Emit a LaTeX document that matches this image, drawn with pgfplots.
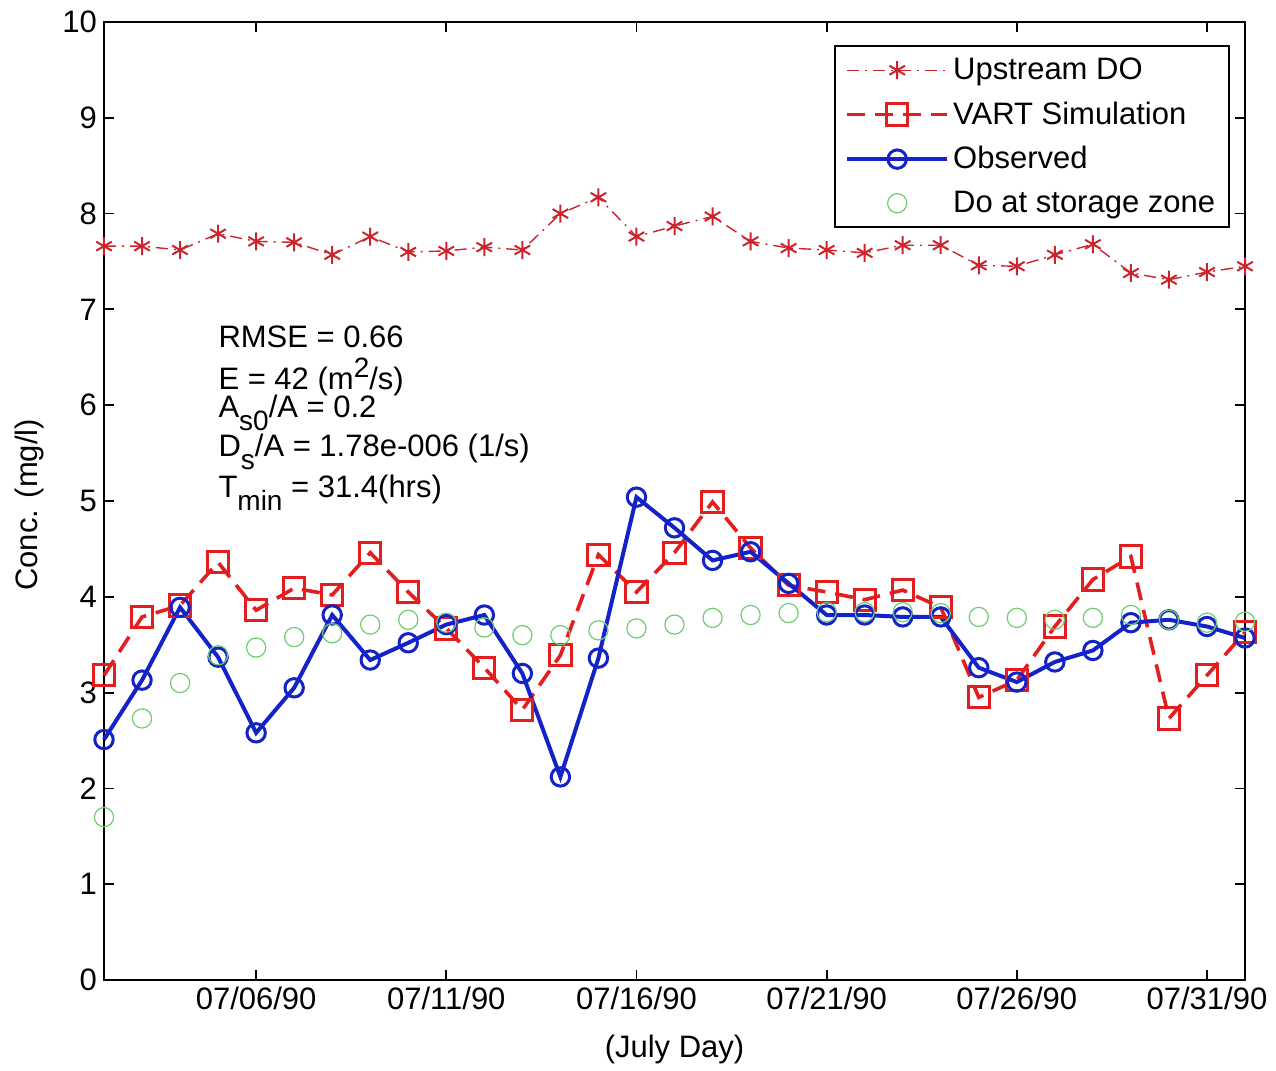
\documentclass[border=0pt]{standalone}
\usepackage{fontspec}
\setmainfont{Liberation Sans}
\usepackage{pgfplots}
\pgfplotsset{compat=1.18}
\definecolor{matred}{RGB}{228,30,30}
\definecolor{starred}{RGB}{205,35,45}
\definecolor{matblue}{RGB}{20,35,200}
\definecolor{matgreen}{RGB}{110,205,110}
\newcommand{\fs}{\fontsize{15.5}{18.6}\selectfont}
\newcommand{\sub}[1]{\raisebox{-6.5pt}{\fontsize{14}{14}\selectfont #1}}
\newcommand{\sups}[1]{\raisebox{6pt}{\fontsize{14}{14}\selectfont #1}}

\pgfplotstableread{
x up vart obs stor
2 7.66 3.18 2.51 1.70
3 7.66 3.79 3.13 2.73
4 7.62 3.91 3.89 3.10
5 7.79 4.36 3.37 3.39
6 7.71 3.86 2.58 3.47
7 7.70 4.09 3.05 3.58
8 7.57 4.02 3.81 3.62
9 7.76 4.46 3.34 3.71
10 7.60 4.05 3.52 3.76
11 7.61 3.67 3.71 3.73
12 7.65 3.26 3.81 3.68
13 7.62 2.82 3.20 3.60
14 8.00 3.39 2.12 3.60
15 8.17 4.44 3.36 3.65
16 7.76 4.05 5.04 3.67
17 7.87 4.46 4.72 3.71
18 7.97 4.99 4.38 3.78
19 7.71 4.51 4.47 3.81
20 7.64 4.12 4.14 3.83
21 7.62 4.05 3.81 3.84
22 7.59 3.97 3.81 3.84
23 7.67 4.07 3.79 3.84
24 7.67 3.89 3.79 3.83
25 7.46 2.95 3.26 3.79
26 7.45 3.13 3.11 3.78
27 7.57 3.69 3.32 3.76
28 7.68 4.18 3.44 3.78
29 7.38 4.42 3.73 3.81
30 7.31 2.73 3.76 3.76
31 7.39 3.18 3.69 3.73
32 7.45 3.63 3.57 3.74
}\datatable

\begin{document}
\begin{tikzpicture}
\begin{axis}[name=ax, scale only axis, width=570.5pt, height=479pt,
 xmin=2, xmax=32, ymin=0, ymax=10,
 xtick={6,11,16,21,26,31},
 xticklabels={07/06/90,07/11/90,07/16/90,07/21/90,07/26/90,07/31/90},
 ytick={0,1,...,10},
 tick align=inside, major tick length=5pt,
 axis line style={line width=0.9pt},
 every tick/.style={line width=0.9pt,black},
 tick label style={font=\fs}, label style={font=\fs},
 /pgf/number format/assume math mode=true,
 xlabel={(July Day)}, ylabel={Conc. (mg/l)},
 xlabel style={at={(axis description cs:0.5,-0.072)},anchor=center},
 ylabel style={at={(axis description cs:-0.065,0.496)},anchor=center},
 clip=false,
 legend style={at={(axis description cs:0.9869,0.976)},anchor=north east,
   font=\fs, draw=black, line width=0.9pt, row sep=5.6pt,
   inner xsep=5pt, inner ysep=4pt},
 legend cell align=left,
 legend image code/.code={\draw[mark repeat=2,mark phase=2] plot coordinates {(0pt,0pt) (25pt,0pt) (50pt,0pt)};},
]
\addplot[starred, line width=0.7pt, dash pattern=on 6pt off 3pt on 1pt off 3pt,
  mark=asterisk, mark size=4.5pt, mark options={solid, line width=1pt}]
  table[x=x,y=up] {\datatable};
\addlegendentry{Upstream DO}
\addplot[matred, line width=1.8pt, dash pattern=on 9pt off 5pt,
  mark=square, mark size=5.3pt, mark options={solid, line width=1.5pt}]
  table[x=x,y=vart] {\datatable};
\addlegendentry{VART Simulation}
\addplot[matblue, line width=2pt,
  mark=o, mark size=4.6pt, mark options={solid, line width=1.5pt}]
  table[x=x,y=obs] {\datatable};
\addlegendentry{Observed}
\addplot[matgreen, only marks, mark=o, mark size=4.8pt, mark options={line width=0.6pt}]
  table[x=x,y=stor] {\datatable};
\addlegendentry{Do at storage zone}

\node[anchor=base west, font=\fs, inner sep=0pt] at (axis cs:5,6.60) {RMSE = 0.66};
\node[anchor=base west, font=\fs, inner sep=0pt] at (axis cs:5,6.16) {E = 42 (m\sups{2}/s)};
\node[anchor=base west, font=\fs, inner sep=0pt] at (axis cs:5,5.87) {A\sub{s0}/A = 0.2};
\node[anchor=base west, font=\fs, inner sep=0pt] at (axis cs:5,5.46) {D\sub{s}/A = 1.78e-006 (1/s)};
\node[anchor=base west, font=\fs, inner sep=0pt] at (axis cs:5,5.04) {T\sub{min} = 31.4(hrs)};
\end{axis}
\path (ax.south west) ++(-52pt,-44pt) rectangle ([xshift=15.5pt,yshift=11pt]ax.north east);
\end{tikzpicture}
\end{document}
